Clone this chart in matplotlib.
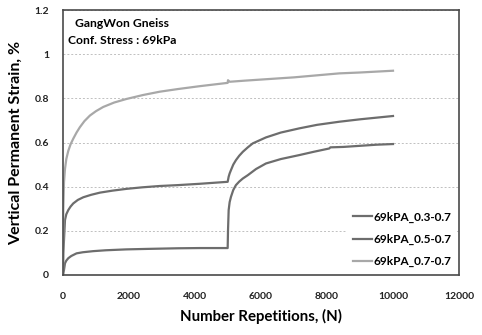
import matplotlib.pyplot as plt

plt.rcParams['font.family'] = ['Lato', 'DejaVu Sans']
plt.rcParams['font.weight'] = 'bold'

# 69kPa, stress ratio 0.3-0.7
n1 = [0, 10, 30, 60, 100, 160, 250, 410, 600, 915, 1300, 1920, 2500, 3480, 4140, 4990,
      5000, 5020, 5050, 5090, 5160, 5240, 5340, 5450, 5600, 5850, 6150, 6600, 7160, 7600,
      8070, 8100, 8500, 9000, 9500, 10000]
e1 = [0.0, 0.01, 0.023, 0.053, 0.065, 0.076, 0.086, 0.098, 0.103, 0.108, 0.112, 0.116, 0.118, 0.121, 0.122, 0.122,
      0.20, 0.294, 0.33, 0.354, 0.385, 0.407, 0.423, 0.437, 0.452, 0.48, 0.505, 0.525, 0.543, 0.558,
      0.573, 0.578, 0.58, 0.585, 0.59, 0.593]

# 69kPa, stress ratio 0.5-0.7
n2 = [0, 10, 30, 60, 100, 160, 230, 310, 450, 615, 850, 1120, 1500, 1920, 2400, 2930, 3480, 4140, 4990,
      5020, 5050, 5090, 5160, 5240, 5340, 5450, 5600, 5750, 6150, 6600, 7160, 7700, 8370, 9000, 10000]
e2 = [0.0, 0.1, 0.158, 0.249, 0.275, 0.294, 0.31, 0.324, 0.34, 0.352, 0.363, 0.373, 0.382, 0.39, 0.397, 0.403, 0.407, 0.413, 0.422,
      0.445, 0.46, 0.475, 0.5, 0.52, 0.54, 0.558, 0.578, 0.596, 0.623, 0.645, 0.664, 0.68, 0.694, 0.705, 0.72]

# 69kPa, stress ratio 0.7-0.7
n3 = [0, 10, 30, 60, 100, 160, 230, 310, 410, 510, 650, 815, 1000, 1220, 1550, 1920, 2425, 2930, 3480, 4140, 4990,
      5000, 5050, 5500, 6000, 7000, 8370, 9000, 10000]
e3 = [0.0, 0.3, 0.42, 0.48, 0.525, 0.562, 0.592, 0.617, 0.645, 0.669, 0.697, 0.722, 0.742, 0.761, 0.781, 0.797, 0.815, 0.83, 0.842, 0.855, 0.87,
      0.882, 0.875, 0.88, 0.885, 0.895, 0.913, 0.917, 0.925]

labels = ['69kPA_0.3-0.7', '69kPA_0.5-0.7', '69kPA_0.7-0.7']

fig = plt.figure(figsize=(4.82, 3.35), dpi=100)
ax = fig.add_axes([63/482, 60/335, 396/482, 265/335])

ax.plot(n1, e1, color='#6d6d6d', lw=1.6, label=labels[0])
ax.plot(n2, e2, color='#6d6d6d', lw=1.6, label=labels[1])
ax.plot(n3, e3, color='#a8a8a8', lw=1.6, label=labels[2])

ax.set_xlim(0, 12000)
ax.set_ylim(0, 1.2)
ax.set_xticks(range(0, 12001, 2000))
ax.set_yticks([0, 0.2, 0.4, 0.6, 0.8, 1, 1.2])
ax.set_yticklabels(['0', '0.2', '0.4', '0.6', '0.8', '1', '1.2'])
ax.tick_params(length=0, labelsize=7.5, colors='#222222')
ax.tick_params(axis='x', pad=12)
ax.tick_params(axis='y', pad=10)
ax.yaxis.grid(True, linestyle=(0, (2, 2)), color='#c0c0c0', lw=0.7)
ax.set_axisbelow(True)
for s in ax.spines.values():
    s.set_color('#4a4a4a')
    s.set_linewidth(1.2)

ax.set_xlabel('Number Repetitions, (N)', fontsize=10.8, fontweight='bold', labelpad=6)
ax.set_ylabel('Vertical Permanent Strain, %', fontsize=11.5, fontweight='bold', labelpad=8)

ax.text(0.03, 0.95, 'GangWon Gneiss', transform=ax.transAxes, fontsize=8.7, va='center')
ax.text(0.012, 0.885, 'Conf. Stress : 69kPa', transform=ax.transAxes, fontsize=8.7, va='center')

leg = ax.legend(loc='lower right', fontsize=8.5, frameon=True, fancybox=False,
                handlelength=1.6, handletextpad=0.15, labelspacing=0.95,
                borderpad=0.45, borderaxespad=0.2, bbox_to_anchor=(1.0, 0.0))
leg.get_frame().set_edgecolor('none')
leg.get_frame().set_facecolor('white')
leg.get_frame().set_alpha(1)

fig.savefig('out.png', dpi=100)
